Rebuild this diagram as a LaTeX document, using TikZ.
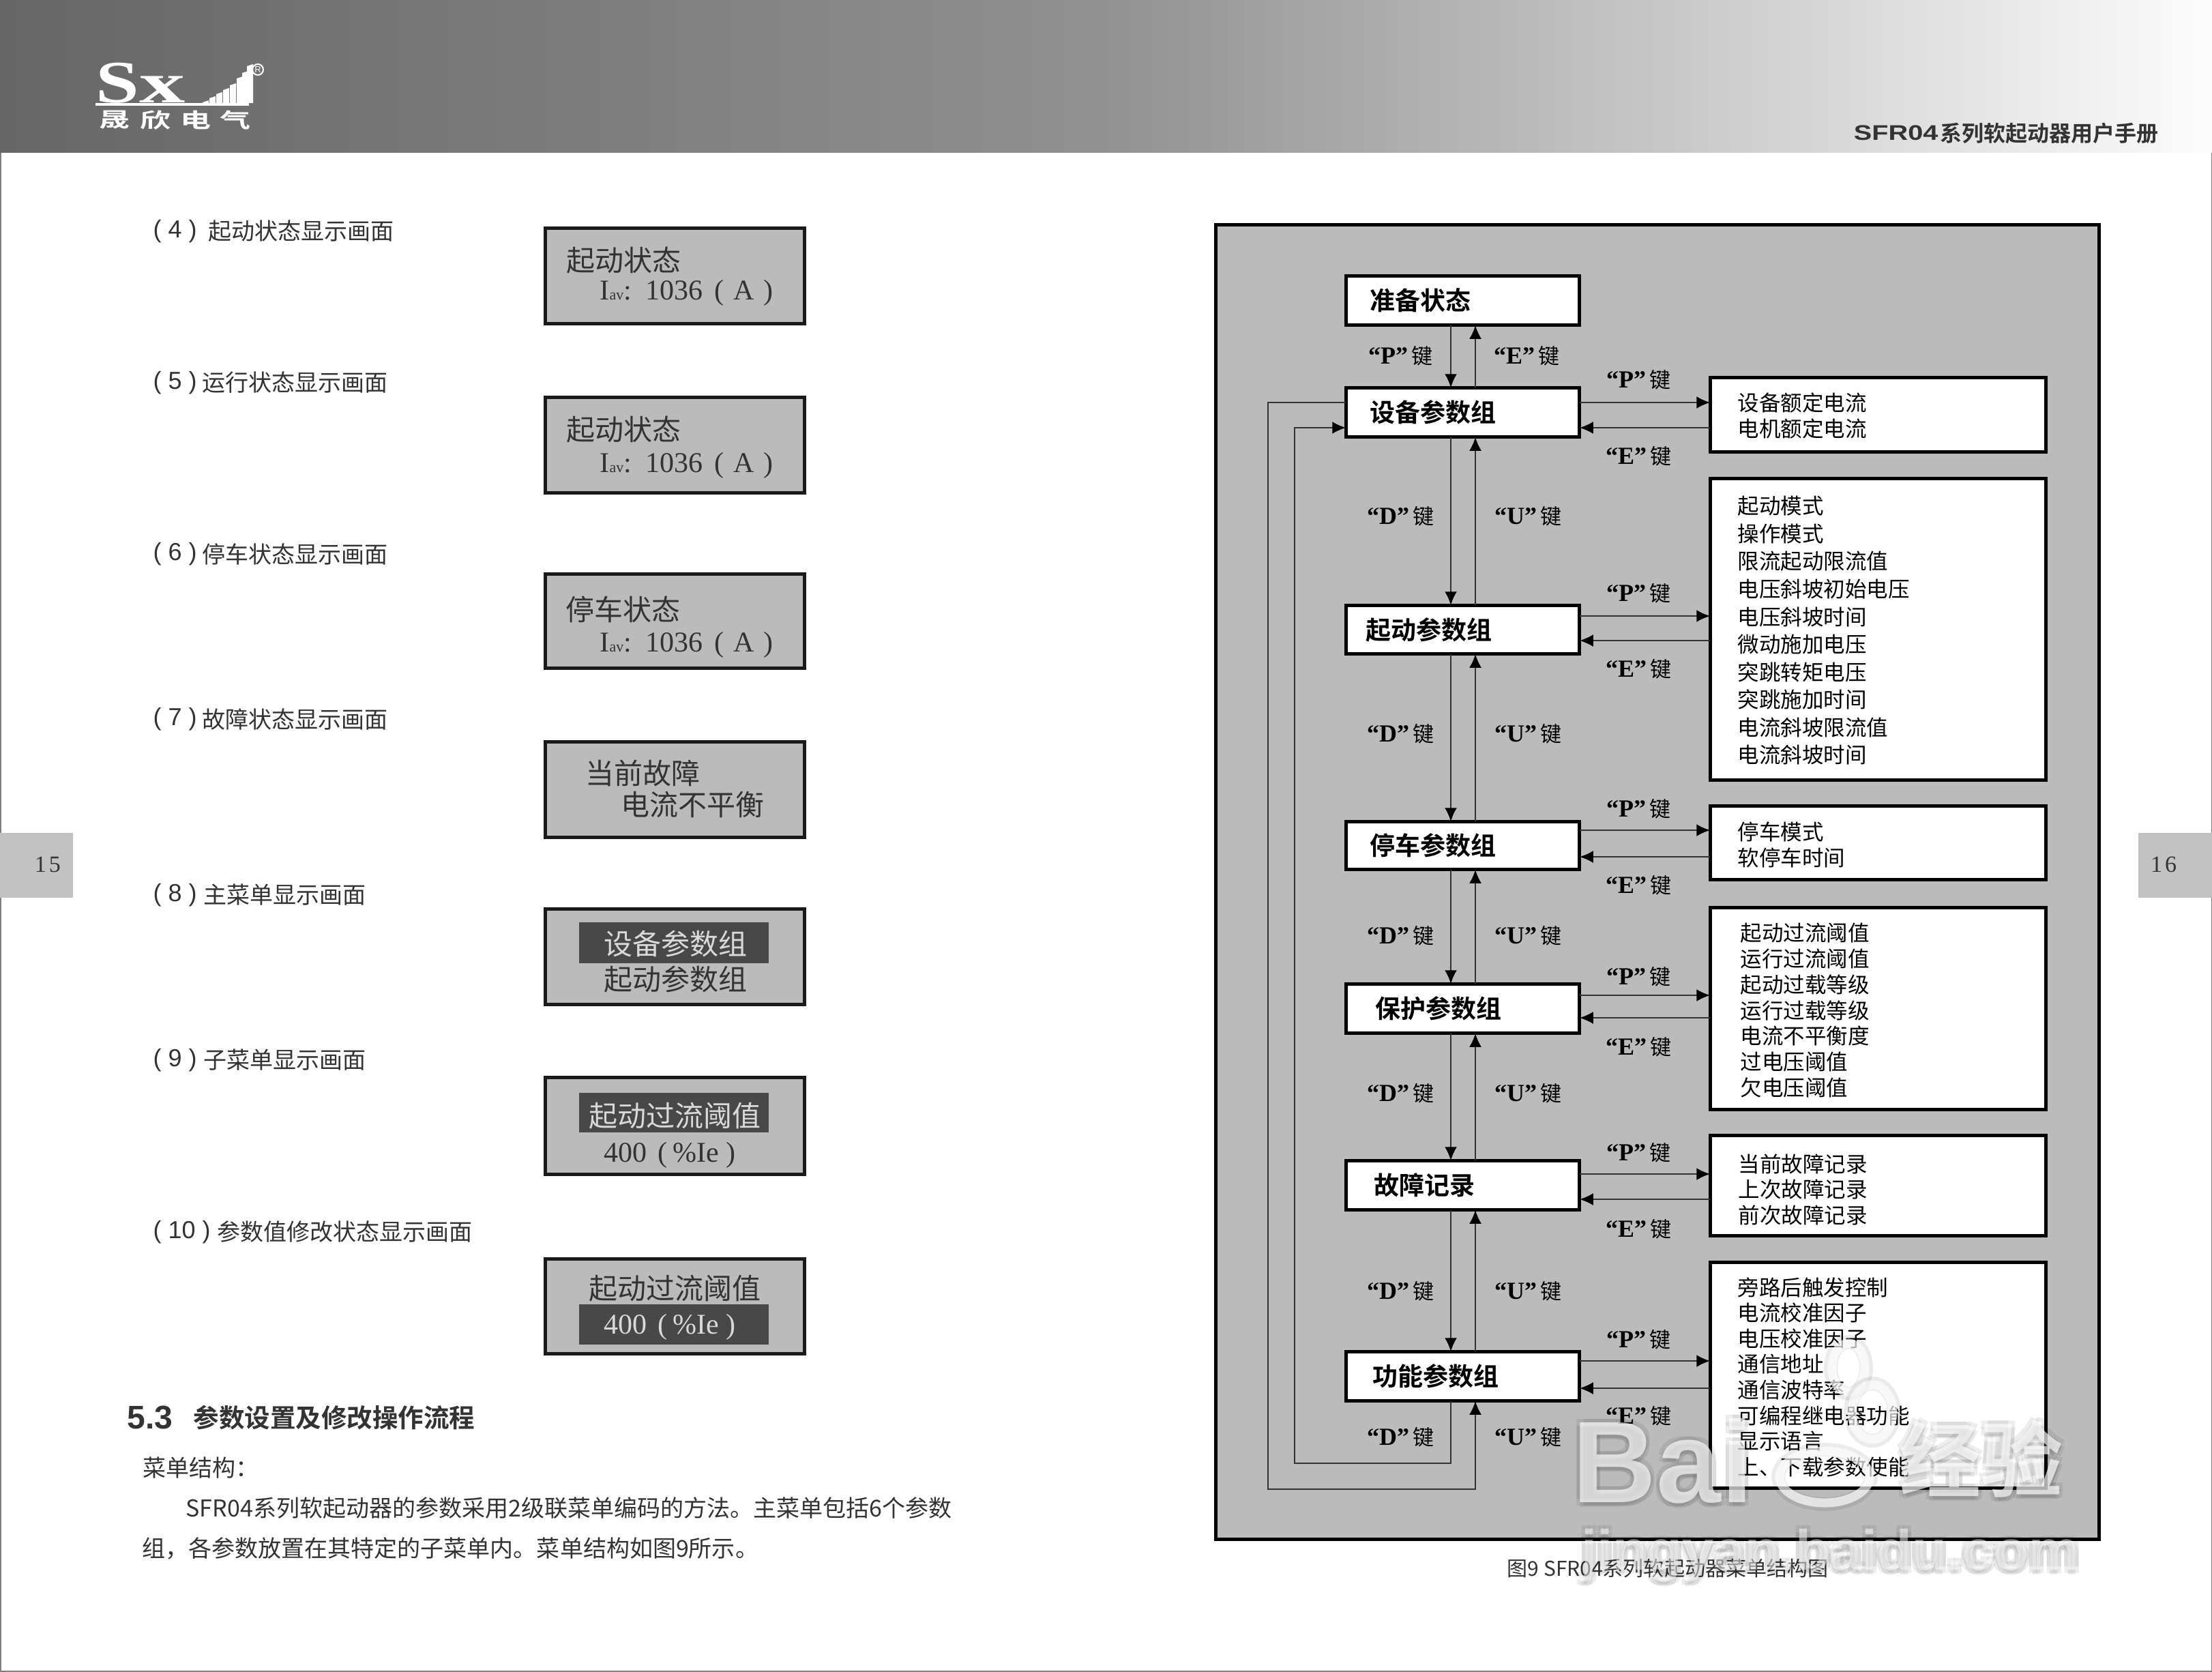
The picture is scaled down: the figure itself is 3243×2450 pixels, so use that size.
\documentclass[tikz,border=0pt]{standalone}
\usepackage{fontspec}
\usetikzlibrary{arrows.meta}
\setmainfont{Noto Sans CJK SC}[BoldFont={Noto Sans CJK SC Bold}]
\newfontfamily\serifnum{Liberation Serif}
\newfontfamily\latsans{Liberation Sans}
\definecolor{panelgray}{HTML}{BBBBBB}
\definecolor{bardark}{HTML}{484848}
\definecolor{inkgray}{HTML}{333333}
\def\dnx{2127}
\def\upx{2163}
\def\mainl{1972}
\def\mainr{2317}
\def\subl{2506}
\def\subr{3001}
\def\dispc{989.5}
\newcommand{\pxfont}[1]{\fontsize{\fpeval{#1*0.2845}pt}{\fpeval{#1*0.32}pt}\selectfont}
\tikzset{
    edgebox/.style={draw=black,line width=0.05cm,fill=white,inner sep=0,outer sep=0},
    dispbox/.style={draw=black!90,line width=0.05cm,fill=panelgray,inner sep=0,outer sep=0},
    lnk/.style={line width=0.025cm,draw=inkgray,-{Latex[length=0.2cm,width=0.18cm,black]}},
    maintxt/.style={anchor=west,inner sep=0,font=\pxfont{37}\bfseries},
    listtxt/.style={anchor=west,inner sep=0,font=\pxfont{31.5}},
    keytxt/.style={inner sep=0,font=\pxfont{31}},
    pagetxt/.style={anchor=west,inner sep=0,font=\pxfont{34},text=inkgray},
    lcdtxt/.style={anchor=west,inner sep=0,font=\pxfont{42},text=black!80},
    lcdinv/.style={lcdtxt,text=white!85!black},
    wmtxt/.style={inner sep=0,anchor=base west}
}
\newcommand{\mainbox}[5]{
    \node[edgebox,minimum width={(\mainr-\mainl-2.5)*0.01cm},minimum height={(#3-#2-2.5)*0.01cm}]
    (#1) at ({(\mainl+\mainr)/2},{(#2+#3)/2}) {};
    \node[maintxt] (#1txt) at (#4,{(#2+#3)/2}) {#5};
}
\newcommand{\subbox}[3]{
    \node[edgebox,minimum width={(\subr-\subl-2.5)*0.01cm},minimum height={(#3-#2-2.5)*0.01cm}]
    (#1) at ({(\subl+\subr)/2},{(#2+#3)/2}) {};
}
\newcommand{\subitems}[5]{
    \foreach \t [count=\i from 0] in {#5} {
        \node[listtxt] (#1item\i) at (#2,{#3+1+\i*#4}) {\t};
    }
}
\newcommand{\keylbl}[4]{
    \node[keytxt] (#1) at (#2,#3) {{\serifnum\bfseries\pxfont{36}“#4”}\hspace{0.05cm}键};
}
\newcommand{\updown}[2]{
    \draw[lnk] (\dnx,0 |- #1.south) -- (\dnx,0 |- #2.north);
    \draw[lnk] (\upx,0 |- #2.north) -- (\upx,0 |- #1.south);
}
\newcommand{\sidelink}[4]{
    \draw[lnk] (#1.east |- 0,#3) -- (#2.west |- 0,#3);
    \draw[lnk] (#2.west |- 0,#4) -- (#1.east |- 0,#4);
}
\newcommand{\lcdbox}[3]{
    \node[dispbox,minimum width=3.79cm,minimum height={(#3-#2-2)*0.01cm}] (#1) at (\dispc,{(#2+#3)/2}) {};
}
\newcommand{\lcdbar}[3]{
    \node[fill=bardark,inner sep=0,outer sep=0,minimum width=2.78cm,minimum height={(#3-#2)*0.01cm}]
    (#1) at (988,{(#2+#3)/2}) {};
}
\newcommand{\scrlabel}[5]{
    \node[pagetxt,font=\latsans\pxfont{36}] (#1num) at (224,{#2+1}) {#3};
    \node[pagetxt] (#1txt) at (#4,{#2+1}) {#5};
}
\newcommand{\curval}[2]{
    \node[inner sep=0,anchor=west,font=\serifnum\pxfont{42},text=black!80] (#1) at (879,{#2+4})
    {I{\pxfont{22}av}:\hspace{0.2cm}1036\hspace{0.17cm}(\hspace{0.14cm}A\hspace{0.14cm})};
}
\newcommand{\wmark}[6]{
    \foreach \dx/\dy [count=\i] in {-5/-5,5/-5,-5/5,5/5,0/7} {
        \node[wmtxt,font=#4,text=black,opacity=0.07] (#1s\i) at ({#2+\dx},{#3+\dy}) {#5};
    }
    \node[wmtxt,font=#4,text=white,opacity=#6] (#1) at (#2,#3) {#5};
}

\begin{document}
\begin{tikzpicture}[x=0.01cm,y=-0.01cm]
    \useasboundingbox (0,0) rectangle (3243,2450);
    \fill[white] (0,0) rectangle (3243,2450);
    \draw[line width=0.03cm,draw=gray] (0,223) -- (0,2450) -- (3243,2450) -- (3243,223);

    % header
    \shade[left color=black!60,right color=black!43] (0,0) rectangle (1622,223);
    \shade[left color=black!43,right color=black!1] (1621,0) rectangle (3243,223);
    \node[inner sep=0,anchor=base west,font=\serifnum\bfseries\pxfont{88},text=white,xscale=1.3] (logos) at (140,150) {S};
    \node[inner sep=0,anchor=base west,font=\serifnum\bfseries\pxfont{84},text=white,xscale=1.6] (logox) at (203,150) {x};
    \fill[white] (140,151) rectangle (365,155);
    \foreach \x/\y in {297/150,307/144,317/138,327/132,337/125,347/115,355/107,362/97} {
        \fill[white] (\x,151) -- (\x,\y) -- ({\x+9},{\y-3}) -- ({\x+9},151) -- cycle;
    }
    \foreach \c/\x [count=\i] in {晟/168,欣/228,电/287,气/345} {
        \node[inner sep=0,font=\pxfont{30}\bfseries,text=white,xscale=1.5] (logoname\i) at (\x,176) {\c};
    }
    \node[circle,draw=white,line width=0.02cm,inner sep=0.3pt,font=\latsans\pxfont{13},text=white] (logoreg) at (378,102) {R};
    \node[inner sep=0,anchor=west,font=\latsans\pxfont{31}\bfseries,text=inkgray,xscale=1.28] (hdrlat) at (2717,195) {SFR04};
    \node[inner sep=0,anchor=east,font=\pxfont{32}\bfseries,text=inkgray] (hdrcjk) at (3165,195) {系列软起动器用户手册};

    % page tabs
    \node[fill=black!24,inner sep=0,minimum width=1.07cm,minimum height=0.95cm] (tabl) at (53,1268) {};
    \node[fill=black!24,inner sep=0,minimum width=1.08cm,minimum height=0.95cm] (tabr) at (3189,1268) {};
    \node[inner sep=0,font=\serifnum\pxfont{34},text=inkgray] (pagel) at (70,1267) {1\hspace{0.04cm}5};
    \node[inner sep=0,font=\serifnum\pxfont{34},text=inkgray] (pager) at (3172,1267) {1\hspace{0.04cm}6};

    % left page
    \scrlabel{sl4}{338}{( 4 )}{305}{起动状态显示画面}
    \scrlabel{sl5}{560}{( 5 )}{296}{运行状态显示画面}
    \scrlabel{sl6}{811}{( 6 )}{296}{停车状态显示画面}
    \scrlabel{sl7}{1053}{( 7 )}{296}{故障状态显示画面}
    \scrlabel{sl8}{1311}{( 8 )}{298}{主菜单显示画面}
    \scrlabel{sl9}{1553}{( 9 )}{298}{子菜单显示画面}
    \scrlabel{sl10}{1805}{( 10 )}{318}{参数值修改状态显示画面}

    \lcdbox{lcd4}{333}{475}
    \node[lcdtxt] (lcd4a) at (830,382) {起动状态};
    \curval{lcd4b}{425}
    \lcdbox{lcd5}{581}{723}
    \node[lcdtxt] (lcd5a) at (830,630) {起动状态};
    \curval{lcd5b}{678}
    \lcdbox{lcd6}{840}{980}
    \node[lcdtxt] (lcd6a) at (829,893) {停车状态};
    \curval{lcd6b}{941}
    \lcdbox{lcd7}{1086}{1228}
    \node[lcdtxt] (lcd7a) at (858,1133) {当前故障};
    \node[lcdtxt] (lcd7b) at (910,1179) {电流不平衡};
    \lcdbox{lcd8}{1331}{1473}
    \lcdbar{bar8}{1352}{1412}
    \node[lcdinv] (lcd8a) at (885,1383) {设备参数组};
    \node[lcdtxt] (lcd8b) at (885,1436) {起动参数组};
    \lcdbox{lcd9}{1578}{1722}
    \lcdbar{bar9}{1602}{1660}
    \node[lcdinv] (lcd9a) at (863,1636) {起动过流阈值};
    \node[lcdtxt,font=\serifnum\pxfont{42}] (lcd9b) at (885,1693) {400\hspace{0.16cm}(\hspace{0.08cm}\%Ie\hspace{0.1cm})};
    \lcdbox{lcd10}{1844}{1985}
    \lcdbar{bar10}{1912}{1971}
    \node[lcdtxt] (lcd10a) at (863,1889) {起动过流阈值};
    \node[lcdinv,font=\serifnum\pxfont{42}] (lcd10b) at (885,1945) {400\hspace{0.16cm}(\hspace{0.08cm}\%Ie\hspace{0.1cm})};

    \node[inner sep=0,anchor=west,font=\latsans\pxfont{48}\bfseries,text=inkgray] (sec) at (186,2078) {5.3};
    \node[inner sep=0,anchor=west,font=\pxfont{37.5}\bfseries,text=inkgray] (sectitle) at (283,2078) {参数设置及修改操作流程};
    \node[pagetxt] (menu) at (209,2152) {菜单结构：};
    \node[pagetxt] (body1) at (272,2211) {SFR04系列软起动器的参数采用2级联菜单编码的方法。主菜单包括6个参数};
    \node[pagetxt] (body2) at (208,2270) {组，各参数放置在其特定的子菜单内。菜单结构如图9所示。};

    % right page
    \node[draw=black,line width=0.05cm,fill=panelgray,inner sep=0,minimum width=12.94cm,minimum height=19.26cm] (panel) at (2430,1293) {};
    \mainbox{rdy}{403}{478}{2008}{准备状态}
    \mainbox{dev}{567}{642}{2008}{设备参数组}
    \mainbox{sta}{886}{960}{2002}{起动参数组}
    \mainbox{stp}{1203}{1276}{2008}{停车参数组}
    \mainbox{prt}{1441}{1516}{2016}{保护参数组}
    \mainbox{flt}{1700}{1775}{2014}{故障记录}
    \mainbox{fun}{1980}{2055}{2012}{功能参数组}

    \subbox{subdev}{552}{664}
    \subbox{substa}{700}{1145}
    \subbox{substp}{1180}{1291}
    \subbox{subprt}{1329}{1628}
    \subbox{subflt}{1663}{1813}
    \subbox{subfun}{1849}{2183}
    \subitems{subdev}{2547}{589}{38}{设备额定电流,电机额定电流}
    \subitems{substa}{2547}{741}{40.55}{起动模式,操作模式,限流起动限流值,电压斜坡初始电压,电压斜坡时间,微动施加电压,突跳转矩电压,突跳施加时间,电流斜坡限流值,电流斜坡时间}
    \subitems{substp}{2547}{1218}{38}{停车模式,软停车时间}
    \subitems{subprt}{2551}{1367}{37.67}{起动过流阈值,运行过流阈值,起动过载等级,运行过载等级,电流不平衡度,过电压阈值,欠电压阈值}
    \subitems{subflt}{2548}{1705}{37.5}{当前故障记录,上次故障记录,前次故障记录}
    \subitems{subfun}{2547}{1886}{37.6}{旁路后触发控制,电流校准因子,电压校准因子,通信地址,通信波特率,可编程继电器功能,显示语言,上、下载参数使能}

    \updown{rdy}{dev}
    \updown{dev}{sta}
    \updown{sta}{stp}
    \updown{stp}{prt}
    \updown{prt}{flt}
    \updown{flt}{fun}
    \sidelink{dev}{subdev}{590}{627}
    \sidelink{sta}{substa}{903}{939}
    \sidelink{stp}{substp}{1217}{1256}
    \sidelink{prt}{subprt}{1459}{1492}
    \sidelink{flt}{subflt}{1721}{1758}
    \sidelink{fun}{subfun}{1995}{2035}
    \draw[lnk] (dev.west |- 0,590) -- (1859,590) -- (1859,2183) -- (\upx,2183) -- (\upx,0 |- fun.south);
    \draw[lnk] (\dnx,0 |- fun.south) -- (\dnx,2145) -- (1898,2145) -- (1898,627) -- (dev.west |- 0,627);

    \keylbl{kp0}{2053}{522}{P}
    \keylbl{ke0}{2238}{522}{E}
    \keylbl{kd1}{2053}{757}{D}
    \keylbl{ku1}{2240}{757}{U}
    \keylbl{kd2}{2053}{1076}{D}
    \keylbl{ku2}{2240}{1076}{U}
    \keylbl{kd3}{2053}{1372}{D}
    \keylbl{ku3}{2240}{1372}{U}
    \keylbl{kd4}{2053}{1603}{D}
    \keylbl{ku4}{2240}{1603}{U}
    \keylbl{kd5}{2053}{1893}{D}
    \keylbl{ku5}{2240}{1893}{U}
    \keylbl{kd6}{2053}{2107}{D}
    \keylbl{ku6}{2240}{2107}{U}
    \keylbl{kp1}{2402}{557}{P}
    \keylbl{ke1}{2402}{669}{E}
    \keylbl{kp2}{2402}{870}{P}
    \keylbl{ke2}{2402}{981}{E}
    \keylbl{kp3}{2402}{1186}{P}
    \keylbl{ke3}{2402}{1298}{E}
    \keylbl{kp4}{2402}{1432}{P}
    \keylbl{ke4}{2402}{1535}{E}
    \keylbl{kp5}{2402}{1690}{P}
    \keylbl{ke5}{2402}{1802}{E}
    \keylbl{kp6}{2402}{1964}{P}
    \keylbl{ke6}{2402}{2076}{E}

    \node[pagetxt,font=\pxfont{30}] (caption) at (2209,2299) {图9 SFR04系列软起动器菜单结构图};

    % watermark
    \wmark{wmbai}{2305}{2202}{\latsans\pxfont{170}\bfseries}{Bai}{0.68}
    \foreach \cx/\cy/\rada/\radb in {2710/2005/24/36,2745/2070/30/40,2675/2165/66/38} {
        \draw[black,opacity=0.08,line width=0.2cm] (\cx,\cy) ellipse ({\rada+2} and {\radb+2});
        \draw[white,opacity=0.68,line width=0.13cm] (\cx,\cy) ellipse ({\rada} and {\radb});
    }
    \wmark{wmjy}{2784}{2185}{\pxfont{120}\bfseries}{经验}{0.68}
    \wmark{wmurl}{2318}{2301}{\latsans\pxfont{83}\bfseries}{jingyan.baidu.com}{0.5}
\end{tikzpicture}
\end{document}
